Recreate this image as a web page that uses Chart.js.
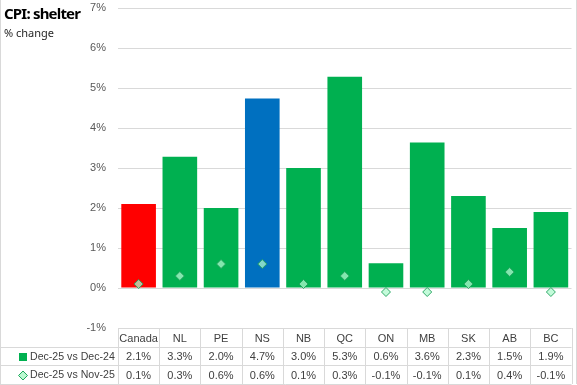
<!DOCTYPE html>
<html>
<head>
<meta charset="utf-8">
<script src="https://cdn.jsdelivr.net/npm/chart.js@4"></script>
<style>
    body { margin: 0; background: #fff; }
    #wrap { position: relative; width: 577px; height: 385px; }
    #title { position: absolute; left: 4px; top: 3px; font: bold 15px "Noto Sans", sans-serif; color: #000; letter-spacing: -0.8px; }
    #sub { position: absolute; left: 4px; top: 25px; font: 11px "Noto Sans", sans-serif; color: #262626; }
</style>
</head>
<body>
<div id="wrap">
    <canvas id="myChart" width="577" height="385"></canvas>
    <div id="title">CPI: shelter</div>
    <div id="sub">% change</div>
</div>
<script>
let regions = ['Canada', 'NL', 'PE', 'NS', 'NB', 'QC', 'ON', 'MB', 'SK', 'AB', 'BC'];
let yearly = [2.1, 3.28, 2.0, 4.74, 3.0, 5.28, 0.62, 3.64, 2.3, 1.5, 1.9];
let monthly = [0.1, 0.3, 0.6, 0.6, 0.1, 0.3, -0.1, -0.1, 0.1, 0.4, -0.1];
let seriesNames = ['Dec-25 vs Dec-24', 'Dec-25 vs Nov-25'];
let barColors = ['#FF0000', '#00B050', '#00B050', '#0070C0', '#00B050', '#00B050', '#00B050', '#00B050', '#00B050', '#00B050', '#00B050'];

const gridColor = '#d9d9d9';
const textColor = '#404040';
const tableFont = '11px "Liberation Sans", Arial, sans-serif';
const legendFont = '10.6px "Liberation Sans", Arial, sans-serif';

// draws the data table under the plot, Excel style
const dataTable = {
    id: 'dataTable',
    afterDraw(chart) {
        let ctx = chart.ctx;
        let x = chart.scales.x;
        let area = chart.chartArea;
        let top = Math.round(area.bottom);
        let rows = [top, top + 19, top + 37, top + 56];
        let step = (area.right - area.left) / regions.length;

        ctx.save();
        ctx.strokeStyle = gridColor;
        ctx.lineWidth = 1;

        ctx.beginPath();
        ctx.moveTo(area.left, rows[0] + 0.5);
        ctx.lineTo(area.right, rows[0] + 0.5);
        for (let r = 1; r < rows.length; r++) {
            ctx.moveTo(0, rows[r] + 0.5);
            ctx.lineTo(area.right, rows[r] + 0.5);
        }
        for (let i = 0; i <= regions.length; i++) {
            let lx = Math.round(area.left + i * step) + 0.5;
            ctx.moveTo(lx, rows[0]);
            ctx.lineTo(lx, rows[3]);
        }
        // outer border
        ctx.moveTo(0.5, 0);
        ctx.lineTo(0.5, rows[3]);
        ctx.moveTo(576.5, 0);
        ctx.lineTo(576.5, rows[3]);
        ctx.stroke();

        ctx.font = tableFont;
        ctx.fillStyle = textColor;
        ctx.textAlign = 'center';
        ctx.textBaseline = 'middle';
        for (let i = 0; i < regions.length; i++) {
            let cx = x.getPixelForValue(i);
            ctx.fillText(regions[i], cx, (rows[0] + rows[1]) / 2 + 1);
            ctx.fillText(yearly[i].toFixed(1) + '%', cx, (rows[1] + rows[2]) / 2 + 1);
            ctx.fillText(monthly[i].toFixed(1) + '%', cx, (rows[2] + rows[3]) / 2 + 1);
        }

        // legend keys
        ctx.font = legendFont;
        ctx.textAlign = 'left';
        let y1 = (rows[1] + rows[2]) / 2 + 1;
        let y2 = (rows[2] + rows[3]) / 2 + 1;
        ctx.fillStyle = '#00B050';
        ctx.fillRect(19, y1 - 4, 8, 8);
        ctx.fillStyle = textColor;
        ctx.fillText(seriesNames[0], 30, y1);

        ctx.beginPath();
        ctx.moveTo(23, y2 - 4.5);
        ctx.lineTo(27.5, y2);
        ctx.lineTo(23, y2 + 4.5);
        ctx.lineTo(18.5, y2);
        ctx.closePath();
        ctx.fillStyle = 'rgba(180,250,205,0.9)';
        ctx.fill();
        ctx.strokeStyle = '#22a85e';
        ctx.stroke();
        ctx.fillStyle = textColor;
        ctx.fillText(seriesNames[1], 30, y2);
        ctx.restore();
    }
};

const ctx = document.getElementById('myChart').getContext('2d');
new Chart(ctx, {
    type: 'bar',
    data: {
        labels: regions,
        datasets: [
            {
                type: 'line',
                label: seriesNames[1],
                data: monthly,
                showLine: false,
                pointStyle: 'rectRot',
                pointRadius: 4.5,
                pointBackgroundColor: 'rgba(175,250,205,0.75)',
                pointBorderColor: 'rgba(30,160,90,0.9)',
                pointBorderWidth: 1,
                order: 0
            },
            {
                label: seriesNames[0],
                data: yearly,
                backgroundColor: barColors,
                categoryPercentage: 1,
                barPercentage: 0.84,
                order: 1
            }
        ]
    },
    plugins: [dataTable],
    options: {
        responsive: false,
        animation: false,
        layout: { padding: { left: 0, right: 1, top: 8, bottom: 57 } },
        plugins: {
            legend: { display: false },
            tooltip: { enabled: false }
        },
        scales: {
            x: {
                display: false
            },
            y: {
                min: -1,
                max: 7,
                afterFit: function(scale) {
                    scale.width = 118;
                    scale.paddingTop = 0;
                    scale.paddingBottom = 0;
                },
                grid: { color: gridColor, drawTicks: false },
                border: { display: false },
                ticks: {
                    stepSize: 1,
                    padding: 12,
                    color: '#595959',
                    font: { family: '"Liberation Sans", Arial, sans-serif', size: 11 },
                    callback: function(v) { return v + '%'; }
                }
            }
        }
    }
});
</script>
</body>
</html>
